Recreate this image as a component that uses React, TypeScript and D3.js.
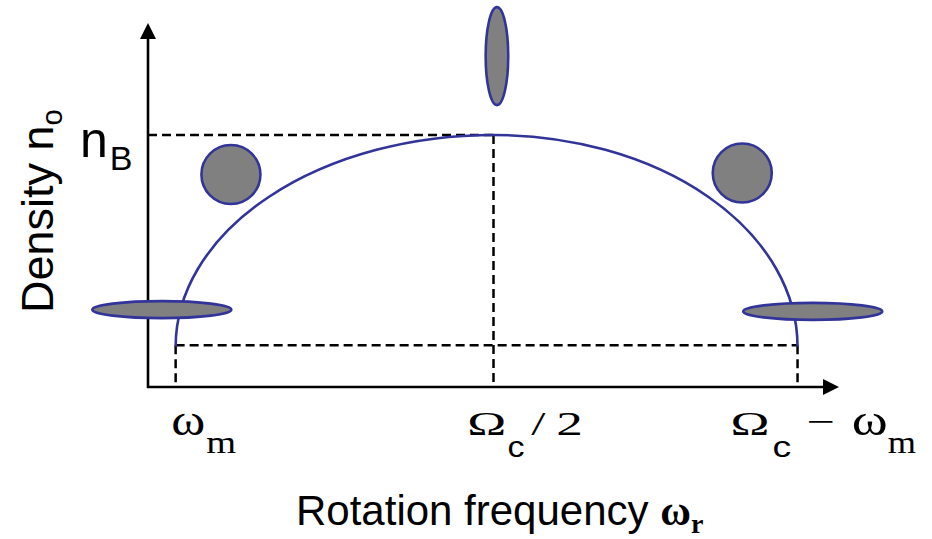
import { useRef, useLayoutEffect } from 'react';
import * as d3 from 'd3';

// rotation frequency axis (fraction of the drawn axis length)
const tickValues = [0.04, 0.5, 0.94];

// density profile n0(ωr), in units of nB
const curveFreq = [0.04, 0.5, 0.94];
const curveDensity = [0.16, 1.0, 0.16];
const nB = 1.0;
const axisTop = 1.444;

// plasma shapes drawn along the curve
const plasmaKind = ['oblate', 'sphere', 'prolate', 'sphere', 'oblate'];
const plasmaFreq = [0.02, 0.12, 0.505, 0.86, 0.962];
const plasmaDensity = [0.307, 0.843, 1.313, 0.849, 0.3];

// tick label glyph pieces: [text, serif?, size, left offset from tick, width, baseline shift]
type Piece = [string, boolean, number, number, number, number];
const tickPieces: Piece[][] = [
  [
    ['ω', true, 44, -4.3, 34, 0],
    ['m', true, 32, 30.7, 30, 18],
  ],
  [
    ['Ω', true, 34, -26.3, 39, 0],
    ['c', false, 29, 14, 17, 21.7],
    ['/', true, 34, 37.7, 15, 0],
    ['2', true, 34, 62.7, 26.6, 0],
  ],
  [
    ['Ω', true, 34, -67, 39, 0],
    ['c', false, 29, -25, 18.7, 21.7],
    ['−', true, 34, 8.7, 28.3, -2],
    ['ω', true, 44, 54.3, 36, 0],
    ['m', true, 32, 90.3, 28.4, 18],
  ],
];

const W = 932;
const H = 539;
const BLUE = '#33349a';
const SANS = "'Liberation Sans', Arial, sans-serif";
const SERIF = "'Liberation Serif', 'Times New Roman', serif";

export default function App() {
  const pieceRefs = useRef<Record<string, SVGTextElement | null>>({});

  const x = d3.scaleLinear().domain([0, 1]).range([148, 839]);
  const y = d3.scaleLinear().domain([0, 1]).range([387, 135]);
  const tickBaseline = y(0) + 48;

  useLayoutEffect(() => {
    tickPieces.forEach((pieces, i) => {
      pieces.forEach((p, j) => {
        const el = pieceRefs.current[`${i}-${j}`];
        if (!el) return;
        const b = el.getBBox();
        const s = p[4] / b.width;
        const left = x(tickValues[i]) + p[3];
        el.setAttribute('transform', `translate(${left - b.x * s},0) scale(${s},1)`);
      });
    });
  }, []);

  const pts = curveFreq.map((f, i) => [x(f), y(curveDensity[i])]);
  let curve = `M${pts[0][0]},${pts[0][1]}`;
  for (let i = 1; i < pts.length; i++) {
    const [xa, ya] = pts[i - 1];
    const [xb, yb] = pts[i];
    curve += ` A${Math.abs(xb - xa)},${Math.abs(yb - ya)} 0 0 1 ${xb},${yb}`;
  }

  const shapeSize: Record<string, [number, number]> = {
    oblate: [69.5, 8.5],
    sphere: [29.5, 29.5],
    prolate: [11.3, 49],
  };

  const x0 = x(0);
  const y0 = y(0);
  const yTop = y(axisTop);
  const xEnd = x(1);
  const edge = y(curveDensity[0]) - 1.5;
  const dash = { stroke: '#000', strokeWidth: 2.5, strokeDasharray: '9 5', fill: 'none' };

  return (
    <svg width={W} height={H} style={{ position: 'absolute', left: 0, top: 0, background: '#fff' }}>
      {/* dashed guides */}
      <line x1={x0} x2={x(0.5)} y1={y(nB)} y2={y(nB)} {...dash} />
      <line x1={x(0.5)} x2={x(0.5)} y1={y(nB)} y2={y0} {...dash} />
      <line x1={x(tickValues[0])} x2={x(tickValues[2])} y1={edge} y2={edge} {...dash} />
      <line x1={x(tickValues[0])} x2={x(tickValues[0])} y1={edge} y2={y0} {...dash} />
      <line x1={x(tickValues[2])} x2={x(tickValues[2])} y1={edge} y2={y0} {...dash} />

      {/* axes */}
      <line x1={x0} x2={x0} y1={y0 + 1} y2={yTop + 10} stroke="#000" strokeWidth={2.6} />
      <line x1={x0 - 1} x2={xEnd - 10} y1={y0} y2={y0} stroke="#000" strokeWidth={2.6} />
      <path d={`M${x0},${yTop} L${x0 - 8},${yTop + 16} L${x0 + 8},${yTop + 16} Z`} fill="#000" />
      <path d={`M${xEnd},${y0} L${xEnd - 16},${y0 - 8} L${xEnd - 16},${y0 + 8} Z`} fill="#000" />

      {/* density curve */}
      <path d={curve} fill="none" stroke={BLUE} strokeWidth={2.6} />

      {/* plasma shapes */}
      {plasmaKind.map((k, i) => (
        <ellipse
          key={i}
          cx={x(plasmaFreq[i])}
          cy={y(plasmaDensity[i])}
          rx={shapeSize[k][0]}
          ry={shapeSize[k][1]}
          fill="#808080"
          stroke={BLUE}
          strokeWidth={2.6}
        />
      ))}

      {/* n_B */}
      <text x={x0 - 68} y={y(nB) + 22} fontFamily={SANS} fill="#000">
        <tspan fontSize={50}>n</tspan>
        <tspan fontSize={34} dx={2} dy={13}>B</tspan>
      </text>

      {/* y axis title */}
      <text transform="translate(53,313) rotate(-90)" fontFamily={SANS} fontSize={45} fill="#000">
        Density n<tspan fontSize={29} dy={9}>o</tspan>
      </text>

      {/* tick labels */}
      {tickPieces.map((pieces, i) =>
        pieces.map((p, j) => (
          <text
            key={`${i}-${j}`}
            ref={(el) => { pieceRefs.current[`${i}-${j}`] = el; }}
            y={tickBaseline + p[5]}
            fontFamily={p[1] ? SERIF : SANS}
            fontSize={p[2]}
            fill="#000"
          >
            {p[0]}
          </text>
        ))
      )}

      {/* x axis title */}
      <text x={296} y={525} fontFamily={SANS} fontSize={42} fill="#000">
        Rotation frequency{' '}
        <tspan fontFamily={SERIF} fontWeight="bold">ω</tspan>
        <tspan fontFamily={SERIF} fontWeight="bold" fontSize={28} dy={8}>r</tspan>
      </text>
    </svg>
  );
}
